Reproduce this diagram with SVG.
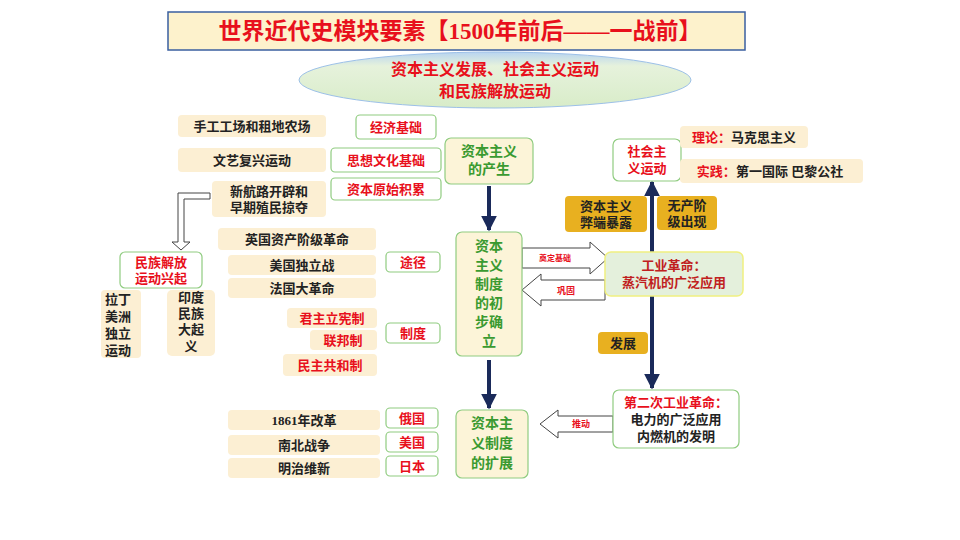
<svg xmlns="http://www.w3.org/2000/svg" width="960" height="540" viewBox="0 0 960 540">
<defs>
<linearGradient id="eg" x1="0" y1="0" x2="0" y2="1"><stop offset="0" stop-color="#b8d4f0"/><stop offset="0.25" stop-color="#e6f2dc"/><stop offset="1" stop-color="#d8ecc8"/></linearGradient>
<marker id="ah" viewBox="0 0 10 10" refX="9" refY="5" markerWidth="4" markerHeight="4" orient="auto"><path d="M0,0L10,5L0,10z" fill="#1a2a5a"/></marker>
</defs>
<style>
text{font-family:"Liberation Serif","Noto Sans CJK SC",serif;font-weight:bold;text-anchor:middle;font-size:13px;fill:#222}
.r{fill:#e8101c}.g{fill:#3a9a30}.w{fill:#1a1a1a}
.b{fill:#fcefd3;stroke:none}
.gb{fill:#fff;stroke:#90cc80;stroke-width:1.2}
.cb{fill:#fcf4d8;stroke:#90cc80;stroke-width:1.2}
.ob{fill:#e8b020;stroke:none}
.ln{stroke:#1a2a5a;stroke-width:4;fill:none}
.ha{fill:#fff;stroke:#444;stroke-width:1}
</style>
<rect width="960" height="540" fill="#fff"/>
<g id="title"><rect x="168" y="12" width="577" height="38" fill="#fdf2cc" stroke="#3a5fa0" stroke-width="1.5"/><text x="460" y="39" class="r" style="font-size:23px">世界近代史模块要素【1500年前后——一战前】</text></g>
<g id="topic"><ellipse cx="495" cy="80" rx="196" ry="28" fill="url(#eg)" stroke="#9cc0e8" stroke-width="1"/><text x="495" y="75" class="r" style="font-size:16px">资本主义发展、社会主义运动</text><text x="495" y="97" class="r" style="font-size:16px">和民族解放运动</text></g>
<g id="connectors">
<line x1="489" y1="186" x2="489" y2="230" class="ln" marker-end="url(#ah)"/>
<line x1="489" y1="360" x2="489" y2="408" class="ln" marker-end="url(#ah)"/>
<line x1="652" y1="252" x2="652" y2="182" class="ln" marker-end="url(#ah)"/>
<line x1="652" y1="296" x2="652" y2="388" class="ln" marker-end="url(#ah)"/>
<path d="M522,248H590V242L608,258L590,274V268H522z" class="ha"/><text x="555" y="261" class="r" style="font-size:8px">奠定基础</text>
<path d="M605,280H541V274L522,290L541,306V300H605z" class="ha"/><text x="566" y="294" class="r" style="font-size:9px">巩固</text>
<path d="M613,416H558V410L540,424L558,438V432H613z" class="ha"/><text x="581" y="427" class="r" style="font-size:9px">推动</text>
<path d="M210,193H178V242H172L181,250L190,242H184V199H210z" class="ha"/>
</g>
<g id="n1"><rect x="178" y="115" width="148" height="22" rx="4" class="b"/><text x="252" y="131">手工工场和租地农场</text></g>
<g id="n2"><rect x="178" y="148" width="148" height="24" rx="4" class="b"/><text x="252" y="165">文艺复兴运动</text></g>
<g id="n3"><rect x="212" y="181" width="114" height="36" rx="4" class="b"/><text x="269" y="196">新航路开辟和</text><text x="269" y="212">早期殖民掠夺</text></g>
<g id="n4"><rect x="218" y="228" width="158" height="22" rx="4" class="b"/><text x="297" y="244">英国资产阶级革命</text></g>
<g id="n5"><rect x="228" y="255" width="148" height="20" rx="4" class="b"/><text x="302" y="270">美国独立战</text></g>
<g id="n6"><rect x="228" y="278" width="148" height="20" rx="4" class="b"/><text x="302" y="293">法国大革命</text></g>
<g id="n7"><rect x="287" y="308" width="90" height="20" rx="4" class="b"/><text x="332" y="323" class="r">君主立宪制</text></g>
<g id="n8"><rect x="310" y="330" width="67" height="20" rx="4" class="b"/><text x="343" y="345" class="r">联邦制</text></g>
<g id="n9"><rect x="283" y="354" width="94" height="22" rx="4" class="b"/><text x="330" y="370" class="r">民主共和制</text></g>
<g id="n10"><rect x="228" y="410" width="152" height="20" rx="4" class="b"/><text x="304" y="425">1861年改革</text></g>
<g id="n11"><rect x="228" y="435" width="152" height="20" rx="4" class="b"/><text x="304" y="450">南北战争</text></g>
<g id="n12"><rect x="228" y="458" width="152" height="20" rx="4" class="b"/><text x="304" y="473">明治维新</text></g>
<g id="l1"><rect x="356" y="115" width="80" height="24" rx="4" class="gb"/><text x="396" y="132" class="r">经济基础</text></g>
<g id="l2"><rect x="331" y="148" width="110" height="24" rx="4" class="gb"/><text x="386" y="165" class="r">思想文化基础</text></g>
<g id="l3"><rect x="331" y="178" width="110" height="22" rx="4" class="gb"/><text x="386" y="194" class="r">资本原始积累</text></g>
<g id="l4"><rect x="386" y="252" width="54" height="20" rx="4" class="gb"/><text x="413" y="267" class="r">途径</text></g>
<g id="l5"><rect x="386" y="323" width="54" height="20" rx="4" class="gb"/><text x="413" y="338" class="r">制度</text></g>
<g id="l6"><rect x="386" y="408" width="52" height="20" rx="4" class="gb"/><text x="412" y="423" class="r">俄国</text></g>
<g id="l7"><rect x="386" y="432" width="52" height="20" rx="4" class="gb"/><text x="412" y="447" class="r">美国</text></g>
<g id="l8"><rect x="386" y="456" width="52" height="20" rx="4" class="gb"/><text x="412" y="471" class="r">日本</text></g>
<g id="nl"><rect x="120" y="252" width="82" height="36" rx="5" class="gb"/><text x="161" y="267" class="r">民族解放</text><text x="161" y="283" class="r">运动兴起</text></g>
<g id="la"><rect x="101" y="290" width="40" height="68" rx="4" class="b"/><text x="118" y="304">拉丁</text><text x="118" y="321">美洲</text><text x="118" y="338">独立</text><text x="118" y="355">运动</text></g>
<g id="in"><rect x="167" y="290" width="48" height="66" rx="5" class="b"/><text x="191" y="302">印度</text><text x="191" y="318">民族</text><text x="191" y="334">大起</text><text x="191" y="351">义</text></g>
<g id="c1"><rect x="445" y="138" width="88" height="46" rx="6" class="cb"/><text x="489" y="156" class="g" style="font-size:14px">资本主义</text><text x="489" y="174" class="g" style="font-size:14px">的产生</text></g>
<g id="c2"><rect x="456" y="232" width="66" height="124" rx="6" class="cb"/><text x="489" y="251" class="g" style="font-size:14px">资本</text><text x="489" y="270" class="g" style="font-size:14px">主义</text><text x="489" y="289" class="g" style="font-size:14px">制度</text><text x="489" y="308" class="g" style="font-size:14px">的初</text><text x="489" y="327" class="g" style="font-size:14px">步确</text><text x="489" y="346" class="g" style="font-size:14px">立</text></g>
<g id="c3"><rect x="456" y="410" width="72" height="68" rx="6" class="cb"/><text x="492" y="428" class="g" style="font-size:14px">资本主</text><text x="492" y="448" class="g" style="font-size:14px">义制度</text><text x="492" y="468" class="g" style="font-size:14px">的扩展</text></g>
<g id="s1"><rect x="613" y="139" width="68" height="42" rx="6" class="gb"/><text x="647" y="156" class="r">社会主</text><text x="647" y="173" class="r">义运动</text></g>
<g id="s2"><rect x="680" y="126" width="128" height="22" rx="4" class="b"/><text x="744" y="142"><tspan class="r">理论：</tspan>马克思主义</text></g>
<g id="s3"><rect x="680" y="159" width="183" height="24" rx="4" class="b"/><text x="770" y="176"><tspan class="r">实践：</tspan>第一国际 巴黎公社</text></g>
<g id="o1"><rect x="565" y="196" width="82" height="36" rx="4" class="ob"/><text x="606" y="211">资本主义</text><text x="606" y="227">弊端暴露</text></g>
<g id="o2"><rect x="657" y="196" width="60" height="34" rx="4" class="ob"/><text x="687" y="210">无产阶</text><text x="687" y="226">级出现</text></g>
<g id="o3"><rect x="598" y="332" width="50" height="22" rx="4" class="ob"/><text x="623" y="348">发展</text></g>
<g id="ir1"><rect x="605" y="252" width="138" height="44" rx="6" fill="#e4f0dc" stroke="#f0f080" stroke-width="1.5"/><text x="674" y="270" style="fill:#c02020">工业革命：</text><text x="674" y="287" style="fill:#c02020">蒸汽机的广泛应用</text></g>
<g id="ir2"><rect x="613" y="390" width="126" height="58" rx="6" class="gb"/><text x="676" y="407" class="r">第二次工业革命：</text><text x="676" y="424">电力的广泛应用</text><text x="676" y="441">内燃机的发明</text></g>
</svg>
